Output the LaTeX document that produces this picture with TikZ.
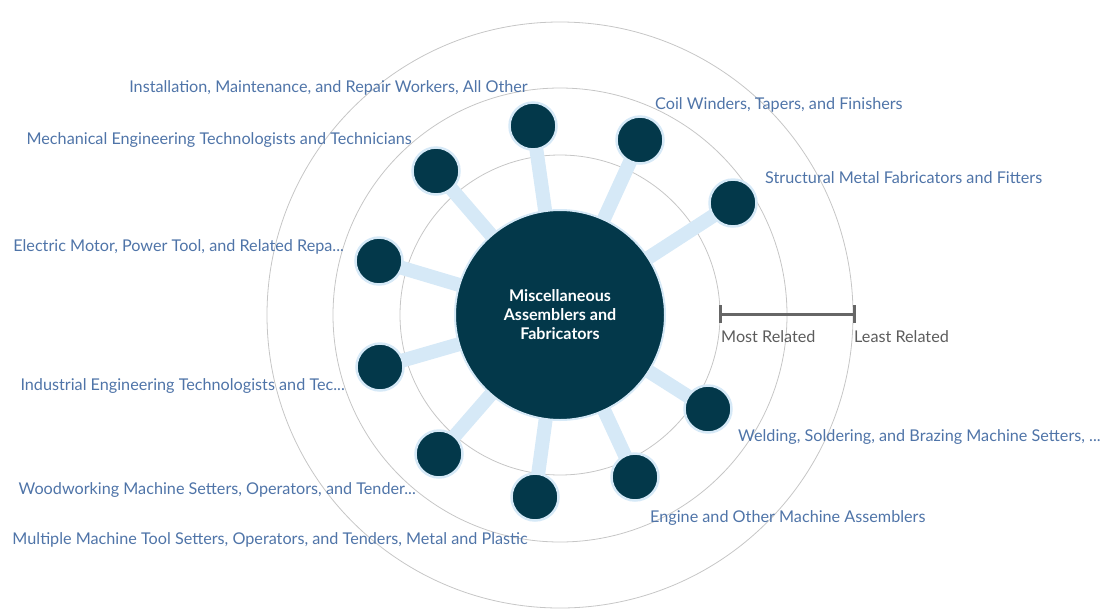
\documentclass[tikz,border=0pt]{standalone}
\usepackage{fontspec}
\setmainfont{Lato}
\usepackage{tikz}
\pgfdeclarelayer{background}
\pgfdeclarelayer{rings}
\pgfsetlayers{rings,background,main}

\definecolor{nodedark}{HTML}{03384A}
\definecolor{linkblue}{HTML}{D6E9F7}
\definecolor{ringgray}{HTML}{C6C6C6}
\definecolor{labelblue}{HTML}{4F74A8}
\definecolor{scalegray}{HTML}{666666}

\tikzset{
  occ/.style={circle, fill=nodedark, draw=linkblue, line width=2.5pt, minimum size=47pt, inner sep=0pt},
  occlabel/.style={text=labelblue, font=\fontsize{16.2}{19}\selectfont, inner sep=0pt},
  link/.style={draw=linkblue, line width=14pt},
}

\begin{document}
\begin{tikzpicture}[x=1pt,y=-1pt]
  \useasboundingbox (0,0) rectangle (1108,614);
  % rings
  \begin{pgfonlayer}{rings}
    \draw[ringgray, line width=0.8pt] (560,315) circle (160) circle (227) circle (293);
  \end{pgfonlayer}
  % centre
  \node[circle, fill=nodedark, draw=linkblue, line width=2pt, minimum size=210pt, inner sep=0pt,
        text=white, align=center, font=\bfseries\fontsize{16.1}{19}\selectfont] (misc) at (560,315)
        {\raisebox{-1pt}{\parbox{120pt}{\centering Miscellaneous\\Assemblers and\\Fabricators}}};
  % related occupations
  \node[occ] (install) at (533,126) {};
  \node[occ] (coil) at (640,140) {};
  \node[occ] (struct) at (733,203) {};
  \node[occ] (mech) at (436,171) {};
  \node[occ] (motor) at (379,261) {};
  \node[occ] (indeng) at (380,367) {};
  \node[occ] (wood) at (439,454) {};
  \node[occ] (multi) at (535,497) {};
  \node[occ] (engine) at (635,477) {};
  \node[occ] (weld) at (708,409) {};
  \begin{pgfonlayer}{background}
    \foreach \n in {install,coil,struct,mech,motor,indeng,wood,multi,engine,weld}
      \draw[link] (misc.center) -- (\n.center);
  \end{pgfonlayer}
  % labels
  \node[occlabel, anchor=base east] (install-l) at (528,92) {Installation, Maintenance, and Repair Workers, All Other};
  \node[occlabel, anchor=base west] (coil-l) at (655,109) {Coil Winders, Tapers, and Finishers};
  \node[occlabel, anchor=base west] (struct-l) at (765,183) {Structural Metal Fabricators and Fitters};
  \node[occlabel, anchor=base east] (mech-l) at (412,144) {Mechanical Engineering Technologists and Technicians};
  \node[occlabel, anchor=base east] (motor-l) at (344,251) {Electric Motor, Power Tool, and Related Repa...};
  \node[occlabel, anchor=base east] (indeng-l) at (345,390) {Industrial Engineering Technologists and Tec...};
  \node[occlabel, anchor=base east] (wood-l) at (416,494) {Woodworking Machine Setters, Operators, and Tender...};
  \node[occlabel, anchor=base east] (multi-l) at (528,544) {Multiple Machine Tool Setters, Operators, and Tenders, Metal and Plastic};
  \node[occlabel, anchor=base west] (engine-l) at (650,522) {Engine and Other Machine Assemblers};
  \node[occlabel, anchor=base west] (weld-l) at (738,441) {Welding, Soldering, and Brazing Machine Setters, ...};
  % scale
  \coordinate (most) at (720,314);
  \coordinate (least) at (854,314);
  \draw[scalegray, line width=3pt] (most) -- (least);
  \draw[scalegray, line width=3pt] (720,305) -- (720,323);
  \draw[scalegray, line width=3pt] (854,305) -- (854,323);
  \node[anchor=base west, inner sep=0pt, text=scalegray!90!black, font=\fontsize{16.2}{19}\selectfont] (most-l) at (721,342) {Most Related};
  \node[anchor=base west, inner sep=0pt, text=scalegray!90!black, font=\fontsize{16.2}{19}\selectfont] (least-l) at (854,342) {Least Related};
\end{tikzpicture}
\end{document}
